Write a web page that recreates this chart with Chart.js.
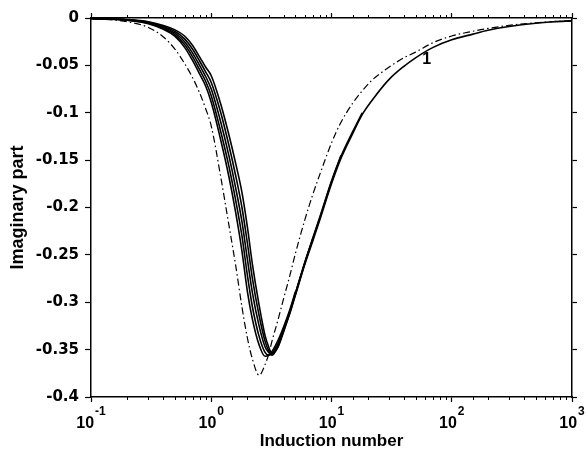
<!DOCTYPE html>
<html>
<head>
<meta charset="utf-8">
<title>Imaginary part vs induction number</title>
<script src="https://cdn.jsdelivr.net/npm/chart.js@4.4.0/dist/chart.umd.min.js"></script>
<style>
  html, body { margin: 0; padding: 0; background: #fff; }
  #wrap { width: 586px; height: 452px; }
</style>
</head>
<body>
<div id="wrap"><canvas id="chart" width="586" height="452"></canvas></div>
<script>
// Induction numbers shared by all curves
const inductionNumbers = [0.1, 0.2, 0.3, 0.4, 0.5, 0.6, 0.7, 0.8, 0.9, 1, 1.2, 1.4, 1.6, 1.8, 2, 2.2, 2.5, 2.8, 3, 3.2, 3.6,
    4, 4.5, 5, 6, 7, 8, 10, 12, 15, 18, 22, 30, 40, 50, 70, 100, 150, 200, 300, 500, 700, 1000];

// Curve labelled "1" (runs over the whole range)
const curve1 = [-0.0005, -0.002, -0.005, -0.010, -0.016, -0.025, -0.037, -0.050, -0.062, -0.075, -0.110, -0.145, -0.180, -0.215,
    -0.255, -0.290, -0.325, -0.347, -0.353, -0.355, -0.345, -0.330, -0.312, -0.293, -0.260, -0.235, -0.213, -0.175, -0.148,
    -0.122, -0.102, -0.086, -0.065, -0.051, -0.042, -0.031, -0.023, -0.017, -0.013, -0.009, -0.0055, -0.004, -0.003];

// Other solid curves, they stop on the rising branch
const curve2 = [-0.0006, -0.0024, -0.006, -0.012, -0.0195, -0.031, -0.045, -0.059, -0.072, -0.089, -0.129, -0.167, -0.206, -0.246,
    -0.289, -0.318, -0.345, -0.357, -0.356, -0.352, -0.340, -0.326, -0.308, -0.289];
const curve3 = [-0.0005, -0.0022, -0.0055, -0.011, -0.0178, -0.028, -0.041, -0.0546, -0.067, -0.082, -0.120, -0.156, -0.193, -0.230,
    -0.272, -0.305, -0.336, -0.353, -0.356, -0.354, -0.343, -0.328, -0.310, -0.291, -0.258, -0.233];
const curve4 = [-0.0004, -0.0018, -0.0045, -0.009, -0.0143, -0.022, -0.033, -0.0454, -0.057, -0.068, -0.100, -0.134, -0.167, -0.200,
    -0.238, -0.275, -0.314, -0.341, -0.351, -0.356, -0.346, -0.329, -0.310, -0.291, -0.258, -0.232, -0.210, -0.172, -0.145];
const curve5 = [-0.0004, -0.0016, -0.0039, -0.008, -0.0125, -0.019, -0.029, -0.041, -0.052, -0.061, -0.091, -0.123, -0.154, -0.184,
    -0.221, -0.260, -0.303, -0.335, -0.347, -0.354, -0.347, -0.331, -0.311, -0.292, -0.259, -0.233, -0.211, -0.173, -0.146,
    -0.120, -0.100];

// Dash-dot reference curve
const dashDot = [-0.0003, -0.004, -0.010, -0.020, -0.033, -0.048, -0.063, -0.079, -0.096, -0.114, -0.168, -0.218, -0.262, -0.305,
    -0.338, -0.360, -0.377, -0.366, -0.355, -0.341, -0.318, -0.296, -0.272, -0.249, -0.213, -0.186, -0.165, -0.132, -0.110,
    -0.090, -0.077, -0.065, -0.052, -0.042, -0.036, -0.026, -0.019, -0.014, -0.011, -0.0078, -0.005, -0.0038, -0.0027];

// Tick labels
const xDecades = [0.1, 1, 10, 100, 1000];
const xExponents = ['-1', '0', '1', '2', '3'];
const yTickLabels = ['-0.4', '-0.35', '-0.3', '-0.25', '-0.2', '-0.15', '-0.1', '-0.05', '0'];

function toPoints(values) {
    return inductionNumbers.map((x, i) => ({ x: x, y: i < values.length ? values[i] : null }));
}

function isDecade(v) {
    const l = Math.log10(v);
    return Math.abs(l - Math.round(l)) < 1e-6;
}

const solid = (values) => ({
    data: toPoints(values),
    borderColor: '#000',
    borderWidth: 1.6,
    pointRadius: 0,
    cubicInterpolationMode: 'monotone',
    fill: false
});

// Decade labels with superscripts, short minor ticks and the "1" label
const axisExtras = {
    id: 'axisExtras',
    afterDraw(chart) {
        const ctx = chart.ctx;
        const x = chart.scales.x;
        const y = chart.scales.y;
        const { top, bottom } = chart.chartArea;
        ctx.save();
        ctx.strokeStyle = '#000';
        ctx.lineWidth = 1;
        x.ticks.forEach(t => {
            if (isDecade(t.value)) return;
            const px = Math.round(x.getPixelForValue(t.value)) + 0.5;
            ctx.beginPath();
            ctx.moveTo(px, bottom);
            ctx.lineTo(px, bottom + 3);
            ctx.moveTo(px, top);
            ctx.lineTo(px, top - 3);
            ctx.stroke();
        });

        ctx.fillStyle = '#000';
        ctx.textBaseline = 'alphabetic';
        ctx.textAlign = 'left';
        const baseFont = 'bold 16px "Liberation Sans", Arial, sans-serif';
        const supFont = 'bold 12px "Liberation Sans", Arial, sans-serif';
        xDecades.forEach((v, i) => {
            ctx.font = baseFont;
            const wb = ctx.measureText('10').width;
            ctx.font = supFont;
            const we = ctx.measureText(xExponents[i]).width;
            const px = x.getPixelForValue(v);
            const start = px - (wb + 1 + we) / 2;
            ctx.font = baseFont;
            ctx.fillText('10', start, 428);
            ctx.font = supFont;
            ctx.fillText(xExponents[i], start + wb + 1, 415);
        });

        ctx.font = 'bold 16px "Liberation Sans", Arial, sans-serif';
        ctx.textAlign = 'center';
        ctx.textBaseline = 'middle';
        ctx.fillText('1', x.getPixelForValue(62), y.getPixelForValue(-0.0443));
        ctx.restore();
    }
};

const tickFont = { family: '"DejaVu Sans", sans-serif', size: 15, weight: 'bold' };

new Chart(document.getElementById('chart'), {
    type: 'line',
    data: {
        datasets: [
            solid(curve1),
            solid(curve2),
            solid(curve3),
            solid(curve4),
            solid(curve5),
            {
                data: toPoints(dashDot),
                borderColor: '#000',
                borderWidth: 1.2,
                borderDash: [7, 3, 1.5, 3],
                pointRadius: 0,
                cubicInterpolationMode: 'monotone',
                fill: false
            }
        ]
    },
    options: {
        responsive: false,
        animation: false,
        layout: { padding: 0 },
        plugins: {
            legend: { display: false },
            tooltip: { enabled: false }
        },
        scales: {
            x: {
                type: 'logarithmic',
                position: 'bottom',
                min: 0.1,
                max: 1000,
                afterFit: s => { s.height = 55; },
                ticks: { autoSkip: false, maxRotation: 0, callback: () => '' },
                grid: {
                    drawOnChartArea: false,
                    tickLength: 5,
                    tickColor: c => (c.tick && isDecade(c.tick.value)) ? '#000' : 'rgba(0,0,0,0)',
                    tickWidth: 1.2
                },
                border: { color: '#000', width: 1.5 },
                title: {
                    display: true,
                    text: 'Induction number',
                    color: '#000',
                    font: { family: '"Liberation Sans", Arial, sans-serif', size: 17, weight: 'bold' },
                    padding: { top: 0, bottom: 0 }
                }
            },
            x2: {
                type: 'logarithmic',
                position: 'top',
                min: 0.1,
                max: 1000,
                afterFit: s => { s.height = 18; },
                ticks: { autoSkip: false, maxRotation: 0, callback: () => '' },
                grid: {
                    drawOnChartArea: false,
                    tickLength: 5,
                    tickColor: c => (c.tick && isDecade(c.tick.value)) ? '#000' : 'rgba(0,0,0,0)',
                    tickWidth: 1.2
                },
                border: { color: '#000', width: 1.5 }
            },
            y: {
                min: -0.4,
                max: 0,
                afterFit: s => { s.width = 91; },
                ticks: {
                    stepSize: 0.05,
                    padding: 6,
                    color: '#000',
                    font: tickFont,
                    callback: (v, i) => yTickLabels[i]
                },
                grid: { drawOnChartArea: false, tickLength: 6, tickColor: '#000', tickWidth: 1.2 },
                border: { color: '#000', width: 1.5 },
                title: {
                    display: true,
                    text: 'Imaginary part',
                    color: '#000',
                    font: { family: '"Liberation Sans", Arial, sans-serif', size: 18, weight: 'bold' },
                    padding: { top: 7, bottom: 0 }
                }
            },
            y2: {
                position: 'right',
                min: -0.4,
                max: 0,
                afterFit: s => { s.width = 14; },
                ticks: { stepSize: 0.05, callback: () => '' },
                grid: { drawOnChartArea: false, tickLength: 5, tickColor: '#000', tickWidth: 1.2 },
                border: { color: '#000', width: 1.5 }
            }
        }
    },
    plugins: [axisExtras]
});
</script>
</body>
</html>
